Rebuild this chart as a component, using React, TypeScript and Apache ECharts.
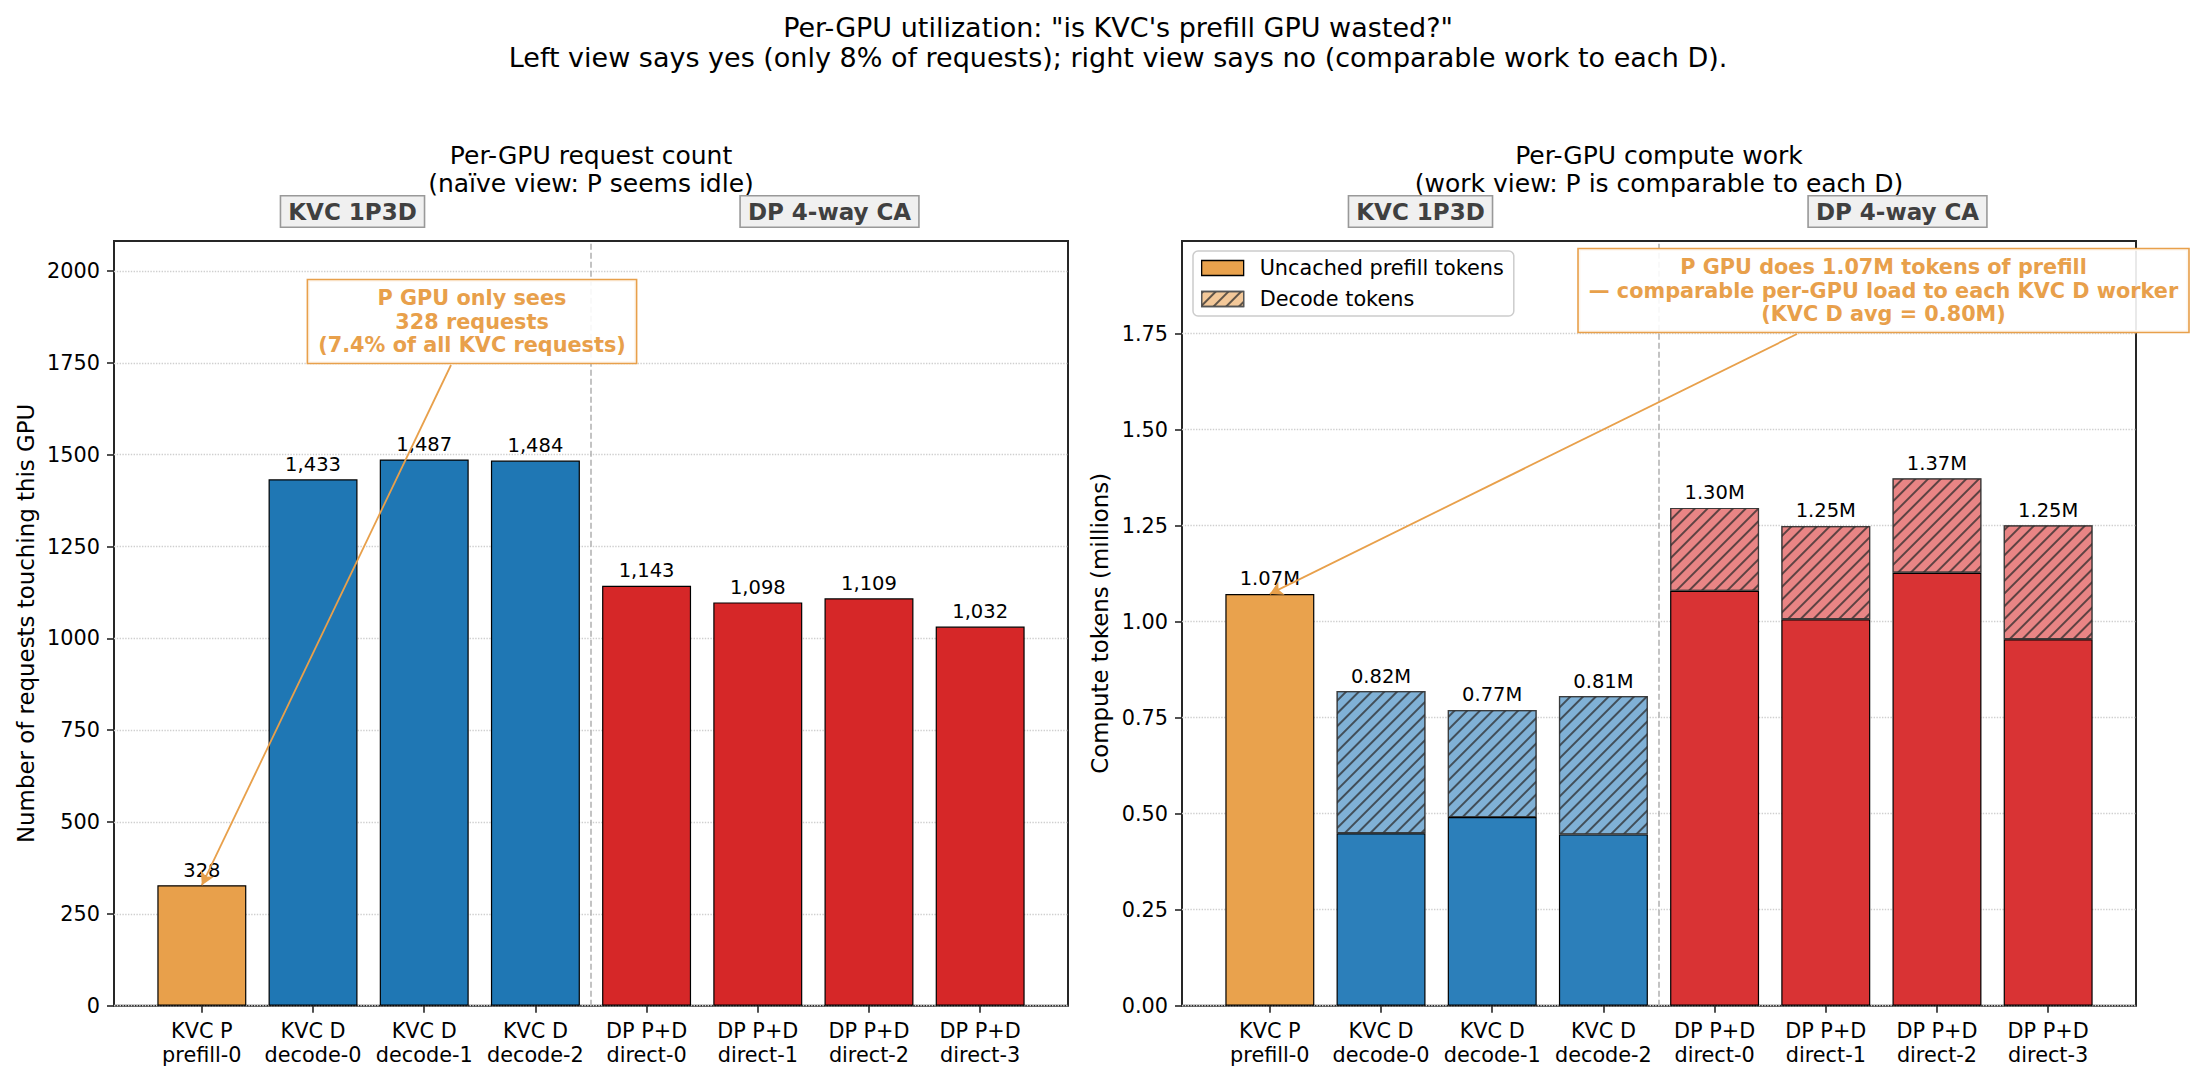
import { useEffect, useRef } from "react";
import * as echarts from "echarts";

// ---- data ----
const gpuCategories = [
  "KVC P\nprefill-0",
  "KVC D\ndecode-0",
  "KVC D\ndecode-1",
  "KVC D\ndecode-2",
  "DP P+D\ndirect-0",
  "DP P+D\ndirect-1",
  "DP P+D\ndirect-2",
  "DP P+D\ndirect-3",
];
const gpuRoles = ["P", "D", "D", "D", "DP", "DP", "DP", "DP"];
const requestCounts = [328, 1433, 1487, 1484, 1143, 1098, 1109, 1032];
// compute tokens per GPU, millions
const prefillTokensM = [1.072, 0.449, 0.491, 0.446, 1.08, 1.006, 1.127, 0.954];
const decodeTokensM = [0, 0.37, 0.279, 0.36, 0.216, 0.243, 0.246, 0.297];
const requestTickValues = [0, 250, 500, 750, 1000, 1250, 1500, 1750, 2000];
const tokenTickValues = [0, 0.25, 0.5, 0.75, 1.0, 1.25, 1.5, 1.75];
const categoryIndex = [0, 1, 2, 3, 4, 5, 6, 7];

// ---- layout / style ----
const FONT = "DejaVu Sans";
const PLOT_TOP = 241;
const PLOT_H = 764.7;
const PLOT_W = 954;
const LEFT_X = 114;
const RIGHT_X = 1182;
const X_MIN = -0.79;
const X_MAX = 7.79;
const BAR_W = (PLOT_W / (X_MAX - X_MIN)) * 0.8;
const ORANGE = "#e8a04b";

const LEFT_COLORS: Record<string, string> = { P: "#e8a04b", D: "#1f77b4", DP: "#d62728" };
const PREFILL_COLORS: Record<string, string> = { P: "#e9a24d", D: "#2c7fba", DP: "#d93334" };
const DECODE_COLORS: Record<string, string> = { P: "#f3c899", D: "#80b1d6", DP: "#e98585" };

const HATCH = {
  symbol: "rect",
  symbolSize: 1,
  dashArrayX: [1, 0],
  dashArrayY: [2, 7],
  rotation: -Math.PI / 4,
  color: "rgba(40,40,40,0.72)",
};

const leftMax = Math.max(...requestCounts) * 1.4;
const tokenTotals = prefillTokensM.map((p, i) => p + decodeTokensM[i]);
const rightMax = Math.max(...tokenTotals) * 1.45;

function xAxisFor(gridIndex: number) {
  return {
    gridIndex,
    type: "value",
    min: X_MIN,
    max: X_MAX,
    axisLine: { show: false, onZero: false },
    splitLine: { show: false },
    axisTick: {
      show: true,
      length: 7,
      customValues: categoryIndex,
      lineStyle: { color: "#262626", width: 1.6 },
    },
    axisLabel: {
      customValues: categoryIndex,
      formatter: (v: number) => gpuCategories[Math.round(v)],
      fontSize: 20.8,
      lineHeight: 24,
      margin: 13,
      color: "#000",
      fontFamily: FONT,
    },
  };
}

function yAxisFor(gridIndex: number, max: number, ticks: number[], name: string, nameGap: number, fmt: (v: number) => string) {
  return {
    gridIndex,
    type: "value",
    min: 0,
    max,
    name,
    nameLocation: "middle",
    nameGap,
    nameTextStyle: { fontSize: 22.9, color: "#000", fontFamily: FONT },
    axisLine: { show: false, onZero: false },
    axisTick: {
      show: true,
      length: 7,
      customValues: ticks,
      lineStyle: { color: "#262626", width: 1.6 },
    },
    axisLabel: {
      customValues: ticks,
      formatter: fmt,
      fontSize: 20.8,
      margin: 14,
      color: "#000",
      fontFamily: FONT,
    },
    splitLine: {
      show: true,
      lineStyle: { type: "dotted", color: "#cfcfcf", width: 1.4 },
    },
  };
}

const separatorLine = {
  xAxis: 3.5,
  lineStyle: { type: "dashed", color: "#b0b0b0", width: 1.5 },
};

function groupTag(text: string, x: number) {
  return {
    type: "text",
    x,
    y: 211.5,
    z: 10,
    style: {
      text,
      fontSize: 23,
      fontWeight: "bold",
      fontFamily: FONT,
      fill: "#404040",
      align: "center",
      verticalAlign: "middle",
      backgroundColor: "#f0f0f0",
      borderColor: "#999",
      borderWidth: 1.6,
      padding: [4, 7, 3, 7],
    },
  };
}

function calloutBox(text: string, x: number, y: number) {
  return {
    type: "text",
    x,
    y,
    z: 10,
    style: {
      text,
      fontSize: 20.8,
      fontWeight: "bold",
      fontFamily: FONT,
      fill: ORANGE,
      align: "center",
      verticalAlign: "middle",
      lineHeight: 23.5,
      backgroundColor: "rgba(255,255,255,0.9)",
      borderColor: ORANGE,
      borderWidth: 1.6,
      padding: [6, 10, 6, 10],
    },
  };
}

function markLinesFor(fromX: number, fromY: number, toValue: number) {
  return {
    silent: true,
    animation: false,
    symbol: ["none", "none"],
    label: { show: false },
    lineStyle: { color: ORANGE, width: 1.8, type: "solid" },
    data: [
      separatorLine,
      [
        { x: fromX, y: fromY, symbol: "none" },
        { coord: [0, toValue], symbol: "arrow", symbolSize: [11, 13] },
      ],
    ],
  };
}

export default function App() {
  const ref = useRef<HTMLDivElement>(null);

  useEffect(() => {
    if (!ref.current) return;
    const chart = echarts.init(ref.current, null, { renderer: "svg" });

    const option = {
      animation: false,
      backgroundColor: "#ffffff",
      textStyle: { fontFamily: FONT },
      title: [
        {
          text:
            'Per-GPU utilization: "is KVC\'s prefill GPU wasted?"\nLeft view says yes (only 8% of requests); right view says no (comparable work to each D).',
          left: 1118,
          top: 12,
          textAlign: "center",
          padding: 0,
          textStyle: { fontSize: 27, fontWeight: "normal", lineHeight: 30, color: "#000", fontFamily: FONT },
        },
        {
          text: "Per-GPU request count\n(naïve view: P seems idle)",
          left: LEFT_X + PLOT_W / 2,
          top: 141,
          textAlign: "center",
          padding: 0,
          textStyle: { fontSize: 25, fontWeight: "normal", lineHeight: 28, color: "#000", fontFamily: FONT },
        },
        {
          text: "Per-GPU compute work\n(work view: P is comparable to each D)",
          left: RIGHT_X + PLOT_W / 2,
          top: 141,
          textAlign: "center",
          padding: 0,
          textStyle: { fontSize: 25, fontWeight: "normal", lineHeight: 28, color: "#000", fontFamily: FONT },
        },
      ],
      legend: {
        orient: "vertical",
        left: 1193,
        top: 251,
        padding: [6, 10, 6, 8],
        itemWidth: 42,
        itemHeight: 15,
        itemGap: 9,
        icon: "rect",
        backgroundColor: "rgba(255,255,255,0.85)",
        borderColor: "#cccccc",
        borderWidth: 1.5,
        borderRadius: 5,
        textStyle: { fontSize: 20.8, lineHeight: 22, color: "#000", fontFamily: FONT, padding: [0, 0, 0, 11] },
        data: [
          {
            name: "Uncached prefill tokens",
            itemStyle: { color: "#e9a24d", borderColor: "#000", borderWidth: 1.3 },
          },
          {
            name: "Decode tokens",
            itemStyle: { color: "#f3c899", borderColor: "#555", borderWidth: 1.3, decal: HATCH },
          },
        ],
      },
      grid: [
        {
          left: LEFT_X,
          top: PLOT_TOP,
          width: PLOT_W,
          height: PLOT_H,
          show: true,
          borderColor: "#262626",
          borderWidth: 2,
          backgroundColor: "transparent",
        },
        {
          left: RIGHT_X,
          top: PLOT_TOP,
          width: PLOT_W,
          height: PLOT_H,
          show: true,
          borderColor: "#262626",
          borderWidth: 2,
          backgroundColor: "transparent",
        },
      ],
      xAxis: [xAxisFor(0), xAxisFor(1)],
      yAxis: [
        yAxisFor(0, leftMax, requestTickValues, "Number of requests touching this GPU", 77, (v) => String(v)),
        yAxisFor(1, rightMax, tokenTickValues, "Compute tokens (millions)", 71, (v) => v.toFixed(2)),
      ],
      series: [
        {
          name: "Requests",
          type: "bar",
          xAxisIndex: 0,
          yAxisIndex: 0,
          barWidth: BAR_W,
          data: requestCounts.map((v, i) => ({
            value: [i, v],
            itemStyle: { color: LEFT_COLORS[gpuRoles[i]] },
          })),
          itemStyle: { borderColor: "#000", borderWidth: 1.2 },
          label: {
            show: true,
            position: "top",
            distance: 5,
            fontSize: 19.5,
            color: "#000",
            fontFamily: FONT,
            formatter: (p: any) => p.value[1].toLocaleString("en-US"),
          },
          markLine: markLinesFor(451, 365, requestCounts[0]),
        },
        {
          // values listed first so the stack is taken on the y dimension
          name: "Uncached prefill tokens",
          type: "bar",
          xAxisIndex: 1,
          yAxisIndex: 1,
          stack: "tokens",
          barWidth: BAR_W,
          encode: { x: 1, y: 0 },
          data: prefillTokensM.map((v, i) => ({
            value: [v, i],
            itemStyle: { color: PREFILL_COLORS[gpuRoles[i]] },
          })),
          itemStyle: { color: "#e9a24d", borderColor: "#000", borderWidth: 1.2 },
          markLine: markLinesFor(1797, 334, prefillTokensM[0]),
        },
        {
          name: "Decode tokens",
          type: "bar",
          xAxisIndex: 1,
          yAxisIndex: 1,
          stack: "tokens",
          barWidth: BAR_W,
          encode: { x: 1, y: 0 },
          data: decodeTokensM.map((v, i) => ({
            value: [v, i],
            itemStyle: { color: DECODE_COLORS[gpuRoles[i]], borderWidth: v === 0 ? 0 : 1.2 },
          })),
          itemStyle: { color: "#f3c899", borderColor: "rgba(50,50,50,0.75)", borderWidth: 1.2, decal: HATCH },
          label: {
            show: true,
            position: "top",
            distance: 5,
            fontSize: 19.5,
            color: "#000",
            fontFamily: FONT,
            formatter: (p: any) => tokenTotals[p.dataIndex].toFixed(2) + "M",
          },
        },
      ],
      graphic: [
        groupTag("KVC 1P3D", LEFT_X + 0.25 * PLOT_W),
        groupTag("DP 4-way CA", LEFT_X + 0.75 * PLOT_W),
        groupTag("KVC 1P3D", RIGHT_X + 0.25 * PLOT_W),
        groupTag("DP 4-way CA", RIGHT_X + 0.75 * PLOT_W),
        calloutBox("P GPU only sees\n328 requests\n(7.4% of all KVC requests)", 472, 321.5),
        calloutBox(
          "P GPU does 1.07M tokens of prefill\n— comparable per-GPU load to each KVC D worker\n(KVC D avg = 0.80M)",
          1883.5,
          290.5
        ),
      ],
    };

    chart.setOption(option as any);
    return () => chart.dispose();
  }, []);

  return (
    <div
      ref={ref}
      style={{ position: "absolute", left: 0, top: 0, width: 2192, height: 1077 }}
    />
  );
}
